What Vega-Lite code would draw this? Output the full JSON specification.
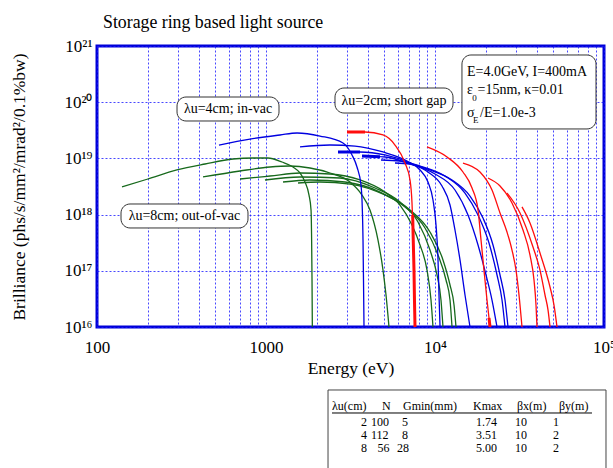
{
"$schema": "https://vega.github.io/schema/vega-lite/v6.json",
"autosize": {"type": "none"},
"width": 507, "height": 281,
"padding": {"left": 97, "top": 46, "right": 9, "bottom": 141},
"background": "white",
"title": {"text": "Storage ring based light source", "anchor": "start", "frame": "group", "dx": 6, "dy": 19, "fontSize": 17.8, "fontWeight": "normal", "font": "Liberation Serif", "color": "black", "baseline": "alphabetic", "offset": 10},
"config": {
  "font": "Liberation Serif",
  "view": {"stroke": "#0000d8", "strokeWidth": 3},
  "axis": {"domain": false, "ticks": false, "grid": true, "gridColor": "#1a1aff", "gridDash": [2, 2], "gridWidth": 1, "gridOpacity": 0.8, "labelFont": "Liberation Serif", "labelFontSize": 17, "labelColor": "black", "titleFont": "Liberation Serif", "titleFontSize": 17.5, "titleFontWeight": "normal", "titleColor": "black", "labelOverlap": false, "labelFlush": false}
},
"datasets": {
"curves": [
{"s":"8-1","u":"8cm","E":140.6,"B":3.10e18},{"s":"8-1","u":"8cm","E":200,"B":4.30e18},{"s":"8-1","u":"8cm","E":297,"B":6.22e18},{"s":"8-1","u":"8cm","E":436,"B":7.95e18},{"s":"8-1","u":"8cm","E":638,"B":9.76e18},{"s":"8-1","u":"8cm","E":838,"B":1.017e19},{"s":"8-1","u":"8cm","E":1027,"B":1.017e19},{"s":"8-1","u":"8cm","E":1243,"B":8.63e18},{"s":"8-1","u":"8cm","E":1445,"B":7.03e18},{"s":"8-1","u":"8cm","E":1589,"B":5.50e18},{"s":"8-1","u":"8cm","E":1701,"B":3.80e18},{"s":"8-1","u":"8cm","E":1797,"B":2.23e18},{"s":"8-1","u":"8cm","E":1847,"B":1.21e18},{"s":"8-1","u":"8cm","E":1862,"B":3.53e17},{"s":"8-1","u":"8cm","E":1872,"B":6.86e16},{"s":"8-1","u":"8cm","E":1880,"B":1e16},
{"s":"8-3","u":"8cm","E":424,"B":4.67e18},{"s":"8-3","u":"8cm","E":702,"B":5.97e18},{"s":"8-3","u":"8cm","E":1056,"B":7.03e18},{"s":"8-3","u":"8cm","E":1387,"B":7.32e18},{"s":"8-3","u":"8cm","E":1821,"B":6.75e18},{"s":"8-3","u":"8cm","E":2391,"B":5.50e18},{"s":"8-3","u":"8cm","E":3141,"B":3.80e18},{"s":"8-3","u":"8cm","E":3699,"B":2.23e18},{"s":"8-3","u":"8cm","E":4124,"B":1.21e18},{"s":"8-3","u":"8cm","E":4600,"B":3.53e17},{"s":"8-3","u":"8cm","E":4924,"B":1.03e17},{"s":"8-3","u":"8cm","E":5130,"B":3.71e16},{"s":"8-3","u":"8cm","E":5343,"B":1e16},
{"s":"8-5","u":"8cm","E":702,"B":4.30e18},{"s":"8-5","u":"8cm","E":1056,"B":4.86e18},{"s":"8-5","u":"8cm","E":1589,"B":5.50e18},{"s":"8-5","u":"8cm","E":2391,"B":5.28e18},{"s":"8-5","u":"8cm","E":3599,"B":4.13e18},{"s":"8-5","u":"8cm","E":5060,"B":2.52e18},{"s":"8-5","u":"8cm","E":6208,"B":1.48e18},{"s":"8-5","u":"8cm","E":7310,"B":6.53e17},{"s":"8-5","u":"8cm","E":8152,"B":2.88e17},{"s":"8-5","u":"8cm","E":8968,"B":1.03e17},{"s":"8-5","u":"8cm","E":9470,"B":3.02e16},{"s":"8-5","u":"8cm","E":9731,"B":1e16},
{"s":"8-7","u":"8cm","E":986,"B":4.13e18},{"s":"8-7","u":"8cm","E":1589,"B":4.67e18},{"s":"8-7","u":"8cm","E":2741,"B":4.48e18},{"s":"8-7","u":"8cm","E":4416,"B":2.97e18},{"s":"8-7","u":"8cm","E":6208,"B":1.675e18},{"s":"8-7","u":"8cm","E":7933,"B":7.38e17},{"s":"8-7","u":"8cm","E":9340,"B":2.34e17},{"s":"8-7","u":"8cm","E":10280,"B":8.42e16},{"s":"8-7","u":"8cm","E":10850,"B":3.02e16},{"s":"8-7","u":"8cm","E":11150,"B":1e16},
{"s":"8-9","u":"8cm","E":1261,"B":3.80e18},{"s":"8-9","u":"8cm","E":1821,"B":4.13e18},{"s":"8-9","u":"8cm","E":2934,"B":3.80e18},{"s":"8-9","u":"8cm","E":4727,"B":2.52e18},{"s":"8-9","u":"8cm","E":6645,"B":1.37e18},{"s":"8-9","u":"8cm","E":8728,"B":5.78e17},{"s":"8-9","u":"8cm","E":10420,"B":1.91e17},{"s":"8-9","u":"8cm","E":11620,"B":6.86e16},{"s":"8-9","u":"8cm","E":12270,"B":3.02e16},{"s":"8-9","u":"8cm","E":12610,"B":1e16},
{"s":"8-11","u":"8cm","E":1547,"B":3.65e18},{"s":"8-11","u":"8cm","E":2087,"B":3.80e18},{"s":"8-11","u":"8cm","E":3141,"B":3.50e18},{"s":"8-11","u":"8cm","E":5060,"B":2.23e18},{"s":"8-11","u":"8cm","E":7114,"B":1.21e18},{"s":"8-11","u":"8cm","E":9340,"B":4.90e17},{"s":"8-11","u":"8cm","E":11150,"B":1.56e17},{"s":"8-11","u":"8cm","E":12270,"B":5.59e16},{"s":"8-11","u":"8cm","E":12960,"B":2.46e16},{"s":"8-11","u":"8cm","E":13310,"B":1e16},
{"s":"4-1","u":"4cm","E":527,"B":1.73e19},{"s":"4-1","u":"4cm","E":804,"B":2.21e19},{"s":"4-1","u":"4cm","E":1210,"B":2.61e19},{"s":"4-1","u":"4cm","E":1526,"B":2.83e19},{"s":"4-1","u":"4cm","E":2087,"B":2.50e19},{"s":"4-1","u":"4cm","E":2855,"B":1.88e19},{"s":"4-1","u":"4cm","E":3228,"B":1.15e19},{"s":"4-1","u":"4cm","E":3455,"B":7.03e18},{"s":"4-1","u":"4cm","E":3649,"B":3.36e18},{"s":"4-1","u":"4cm","E":3699,"B":1.82e18},{"s":"4-1","u":"4cm","E":3750,"B":3.53e17},{"s":"4-1","u":"4cm","E":3775,"B":6.86e16},{"s":"4-1","u":"4cm","E":3801,"B":1e16},
{"s":"4-3","u":"4cm","E":1589,"B":1.60e19},{"s":"4-3","u":"4cm","E":2391,"B":1.73e19},{"s":"4-3","u":"4cm","E":3363,"B":1.66e19},{"s":"4-3","u":"4cm","E":4924,"B":1.30e19},{"s":"4-3","u":"4cm","E":6829,"B":8.99e18},{"s":"4-3","u":"4cm","E":8152,"B":6.22e18},{"s":"4-3","u":"4cm","E":9089,"B":3.80e18},{"s":"4-3","u":"4cm","E":9731,"B":1.82e18},{"s":"4-3","u":"4cm","E":10140,"B":6.53e17},{"s":"4-3","u":"4cm","E":10420,"B":1.56e17},{"s":"4-3","u":"4cm","E":10560,"B":3.71e16},{"s":"4-3","u":"4cm","E":10710,"B":1e16},
{"s":"4-5","u":"4cm","E":2667,"B":1.30e19},{"s":"4-5","u":"4cm","E":3599,"B":1.30e19},{"s":"4-5","u":"4cm","E":5060,"B":1.15e19},{"s":"4-5","u":"4cm","E":7114,"B":8.28e18},{"s":"4-5","u":"4cm","E":9089,"B":5.73e18},{"s":"4-5","u":"4cm","E":11000,"B":3.23e18},{"s":"4-5","u":"4cm","E":12270,"B":1.48e18},{"s":"4-5","u":"4cm","E":13130,"B":5.32e17},{"s":"4-5","u":"4cm","E":14060,"B":1.56e17},{"s":"4-5","u":"4cm","E":15050,"B":3.71e16},{"s":"4-5","u":"4cm","E":16110,"B":1e16},
{"s":"4-7","u":"4cm","E":3699,"B":1.10e19},{"s":"4-7","u":"4cm","E":5060,"B":1.06e19},{"s":"4-7","u":"4cm","E":7114,"B":7.95e18},{"s":"4-7","u":"4cm","E":10000,"B":5.28e18},{"s":"4-7","u":"4cm","E":13130,"B":2.74e18},{"s":"4-7","u":"4cm","E":15680,"B":9.83e17},{"s":"4-7","u":"4cm","E":17970,"B":2.88e17},{"s":"4-7","u":"4cm","E":20040,"B":8.42e16},{"s":"4-7","u":"4cm","E":21740,"B":3.02e16},{"s":"4-7","u":"4cm","E":23280,"B":1e16},
{"s":"4-9","u":"4cm","E":4792,"B":9.37e18},{"s":"4-9","u":"4cm","E":6208,"B":8.99e18},{"s":"4-9","u":"4cm","E":8152,"B":7.32e18},{"s":"4-9","u":"4cm","E":11460,"B":4.86e18},{"s":"4-9","u":"4cm","E":15050,"B":2.42e18},{"s":"4-9","u":"4cm","E":17970,"B":9.83e17},{"s":"4-9","u":"4cm","E":20870,"B":3.12e17},{"s":"4-9","u":"4cm","E":23280,"B":8.42e16},{"s":"4-9","u":"4cm","E":24920,"B":3.02e16},{"s":"4-9","u":"4cm","E":25960,"B":1e16},
{"s":"4-11","u":"4cm","E":5798,"B":8.28e18},{"s":"4-11","u":"4cm","E":7114,"B":7.95e18},{"s":"4-11","u":"4cm","E":9340,"B":6.22e18},{"s":"4-11","u":"4cm","E":12610,"B":4.13e18},{"s":"4-11","u":"4cm","E":16110,"B":2.14e18},{"s":"4-11","u":"4cm","E":19230,"B":8.70e17},{"s":"4-11","u":"4cm","E":22040,"B":2.88e17},{"s":"4-11","u":"4cm","E":24250,"B":8.42e16},{"s":"4-11","u":"4cm","E":25960,"B":3.02e16},{"s":"4-11","u":"4cm","E":27040,"B":1e16},
{"s":"2-1","u":"2cm","E":3015,"B":2.95e19},{"s":"2-1","u":"2cm","E":3853,"B":2.95e19},{"s":"2-1","u":"2cm","E":4924,"B":2.61e19},{"s":"2-1","u":"2cm","E":5798,"B":1.73e19},{"s":"2-1","u":"2cm","E":6645,"B":8.28e18},{"s":"2-1","u":"2cm","E":7114,"B":4.13e18},{"s":"2-1","u":"2cm","E":7310,"B":1.61e18},{"s":"2-1","u":"2cm","E":7410,"B":5.32e17},{"s":"2-1","u":"2cm","E":7512,"B":1.03e17},{"s":"2-1","u":"2cm","E":7560,"B":3.02e16},{"s":"2-1","u":"2cm","E":7615,"B":1e16},
{"s":"2-3","u":"2cm","E":8968,"B":1.60e19},{"s":"2-3","u":"2cm","E":11780,"B":1.06e19},{"s":"2-3","u":"2cm","E":14640,"B":5.73e18},{"s":"2-3","u":"2cm","E":16560,"B":2.97e18},{"s":"2-3","u":"2cm","E":17970,"B":1.21e18},{"s":"2-3","u":"2cm","E":18720,"B":3.53e17},{"s":"2-3","u":"2cm","E":19490,"B":1.03e17},{"s":"2-3","u":"2cm","E":20310,"B":3.02e16},{"s":"2-3","u":"2cm","E":21160,"B":1e16},
{"s":"2-5","u":"2cm","E":14640,"B":8.28e18},{"s":"2-5","u":"2cm","E":18460,"B":5.73e18},{"s":"2-5","u":"2cm","E":21740,"B":2.74e18},{"s":"2-5","u":"2cm","E":24250,"B":1.07e18},{"s":"2-5","u":"2cm","E":26670,"B":4.90e17},{"s":"2-5","u":"2cm","E":28550,"B":2.34e17},{"s":"2-5","u":"2cm","E":30150,"B":1.03e17},{"s":"2-5","u":"2cm","E":31410,"B":3.71e16},{"s":"2-5","u":"2cm","E":32720,"B":1e16},
{"s":"2-7","u":"2cm","E":20590,"B":4.48e18},{"s":"2-7","u":"2cm","E":24250,"B":3.23e18},{"s":"2-7","u":"2cm","E":28550,"B":1.61e18},{"s":"2-7","u":"2cm","E":33170,"B":5.32e17},{"s":"2-7","u":"2cm","E":36490,"B":1.91e17},{"s":"2-7","u":"2cm","E":38530,"B":6.86e16},{"s":"2-7","u":"2cm","E":39600,"B":2.46e16},{"s":"2-7","u":"2cm","E":40140,"B":1e16},
{"s":"2-9","u":"2cm","E":26670,"B":2.42e18},{"s":"2-9","u":"2cm","E":31850,"B":1.07e18},{"s":"2-9","u":"2cm","E":38010,"B":2.65e17},{"s":"2-9","u":"2cm","E":41810,"B":1.03e17},{"s":"2-9","u":"2cm","E":44760,"B":3.71e16},{"s":"2-9","u":"2cm","E":46630,"B":2.01e16},{"s":"2-9","u":"2cm","E":47920,"B":1e16},
{"s":"2-11","u":"2cm","E":32720,"B":1.37e18},{"s":"2-11","u":"2cm","E":36490,"B":7.09e17},{"s":"2-11","u":"2cm","E":41810,"B":2.07e17},{"s":"2-11","u":"2cm","E":47920,"B":5.15e16},{"s":"2-11","u":"2cm","E":50600,"B":2.46e16},{"s":"2-11","u":"2cm","E":52720,"B":1e16}
],
"overlaps": [
{"s":"2-1a","u":"2cm","E":3015,"B":2.95e19},{"s":"2-1a","u":"2cm","E":3853,"B":2.95e19},
{"s":"2-1b","u":"2cm","E":7380,"B":9.83e17},{"s":"2-1b","u":"2cm","E":7410,"B":5.32e17},{"s":"2-1b","u":"2cm","E":7512,"B":1.03e17},{"s":"2-1b","u":"2cm","E":7560,"B":3.02e16},{"s":"2-1b","u":"2cm","E":7615,"B":1e16},
{"s":"2-3b","u":"2cm","E":20870,"B":1.45e16},{"s":"2-3b","u":"2cm","E":21160,"B":1e16},
{"s":"4-5a","u":"4cm","E":2667,"B":1.30e19},{"s":"4-5a","u":"4cm","E":3599,"B":1.30e19},
{"s":"4-7a","u":"4cm","E":3699,"B":1.10e19},{"s":"4-7a","u":"4cm","E":4727,"B":1.075e19}
],
"boxes": [
{"E":297.5,"E2":1194,"B":1.237e20,"B2":4.63e19},
{"E":2560,"E2":12780,"B":1.789e20,"B2":6.42e19},
{"E":14440,"E2":89680,"B":6.92e20,"B2":3.34e19},
{"E":138.7,"E2":782.5,"B":1.544e18,"B2":5.78e17}
],
"labels": [
{"E":596,"B":7.57e19,"t":"λu=4cm; in-vac"},
{"E":5720,"B":1.072e20,"t":"λu=2cm; short gap"},
{"E":329,"B":9.44e17,"t":"λu=8cm; out-of-vac"}
],
"params": [
{"E":15460,"B":3.45e20,"t":"E=4.0GeV, I=400mA"},
{"E":15460,"B":1.648e20,"t":"ε"},
{"E":17840,"B":1.648e20,"t":"=15nm, κ=0.01"},
{"E":15460,"B":6.42e19,"t":"σ"},
{"E":18460,"B":6.42e19,"t":"/E=1.0e-3"}
],
"subs": [
{"E":16600,"B":1.188e20,"t":"0"},
{"E":16790,"B":4.82e19,"t":"E"}
],
"tbox": [{"E":2328,"E2":102760,"B":7.57e14,"B2":2.85e13}],
"tline": [{"E":2458,"E2":84900,"B":2.95e14}],
"cells": [
{"E":2458,"B":3.93e14,"t":"λu(cm)"},{"E":4857,"B":3.93e14,"t":"N"},{"E":6466,"B":3.93e14,"t":"Gmin(mm)"},{"E":16790,"B":3.93e14,"t":"Kmax"},{"E":30560,"B":3.93e14,"t":"βx(m)"},{"E":54170,"B":3.93e14,"t":"βy(m)"},
{"E":3649,"B":2.08e14,"t":"2"},{"E":4181,"B":2.08e14,"t":"100"},{"E":6379,"B":2.08e14,"t":"5"},{"E":17490,"B":2.08e14,"t":"1.74"},{"E":29740,"B":2.08e14,"t":"10"},{"E":49920,"B":2.08e14,"t":"1"},
{"E":3649,"B":1.22e14,"t":"4"},{"E":4181,"B":1.22e14,"t":"112"},{"E":6379,"B":1.22e14,"t":"8"},{"E":17490,"B":1.22e14,"t":"3.51"},{"E":29740,"B":1.22e14,"t":"10"},{"E":49920,"B":1.22e14,"t":"2"},
{"E":3649,"B":7.03e13,"t":"8"},{"E":4567,"B":7.03e13,"t":"56"},{"E":5960,"B":7.03e13,"t":"28"},{"E":17490,"B":7.03e13,"t":"5.00"},{"E":29740,"B":7.03e13,"t":"10"},{"E":49920,"B":7.03e13,"t":"2"}
]
},
"encoding": {
  "x": {"field": "E", "type": "quantitative", "scale": {"type": "log", "domain": [100, 100000], "nice": false},
        "axis": {"title": "Energy (eV)", "titlePadding": 4, "labelPadding": 12,
                 "values": [100,200,300,400,500,600,700,800,900,1000,2000,3000,4000,5000,6000,7000,8000,9000,10000,20000,30000,40000,50000,60000,70000,80000,90000,100000],
                 "labelExpr": "datum.value == 100 ? '100' : datum.value == 1000 ? '1000' : datum.value == 10000 ? '10⁴' : datum.value == 100000 ? '10⁵' : ''"}},
  "y": {"field": "B", "type": "quantitative", "scale": {"type": "log", "domain": [1e16, 1e21], "nice": false},
        "axis": {"title": "Brilliance (phs/s/mm²/mrad²/0.1%bw)", "titlePadding": 35, "labelPadding": 5,
                 "values": [1e16, 1e17, 1e18, 1e19, 1e20, 1e21],
                 "labelExpr": "datum.value < 3e16 ? '10¹⁶' : datum.value < 3e17 ? '10¹⁷' : datum.value < 3e18 ? '10¹⁸' : datum.value < 3e19 ? '10¹⁹' : datum.value < 3e20 ? '10²⁰' : '10²¹'"}}
},
"layer": [
  {"data": {"name": "curves"}, "mark": {"type": "line", "strokeWidth": 1.3, "interpolate": "monotone"},
   "encoding": {"color": {"field": "u", "type": "nominal", "scale": {"domain": ["8cm", "4cm", "2cm"], "range": ["#17691c", "#0000e0", "#ff0d0d"]}, "legend": null}, "detail": {"field": "s"}}},
  {"data": {"name": "overlaps"}, "mark": {"type": "line", "strokeWidth": 3},
   "encoding": {"color": {"field": "u", "type": "nominal", "legend": null}, "detail": {"field": "s"}}},
  {"data": {"name": "boxes"}, "mark": {"type": "rect", "fill": "white", "stroke": "#333333", "strokeWidth": 1, "cornerRadius": 9},
   "encoding": {"x2": {"field": "E2"}, "y2": {"field": "B2"}}},
  {"data": {"name": "labels"}, "mark": {"type": "text", "fontSize": 14, "align": "center", "baseline": "middle", "color": "black"},
   "encoding": {"text": {"field": "t"}}},
  {"data": {"name": "params"}, "mark": {"type": "text", "fontSize": 14, "align": "left", "baseline": "middle", "color": "black"},
   "encoding": {"text": {"field": "t"}}},
  {"data": {"name": "subs"}, "mark": {"type": "text", "fontSize": 9, "align": "left", "baseline": "middle", "color": "black"},
   "encoding": {"text": {"field": "t"}}},
  {"data": {"name": "tbox"}, "mark": {"type": "rect", "fill": null, "fillOpacity": 0, "stroke": "#444444", "strokeWidth": 1},
   "encoding": {"x2": {"field": "E2"}, "y2": {"field": "B2"}}},
  {"data": {"name": "tline"}, "mark": {"type": "rule", "stroke": "black", "strokeWidth": 1},
   "encoding": {"x2": {"field": "E2"}}},
  {"data": {"name": "cells"}, "mark": {"type": "text", "fontSize": 12, "align": "left", "baseline": "middle", "color": "black"},
   "encoding": {"text": {"field": "t"}}}
]
}
